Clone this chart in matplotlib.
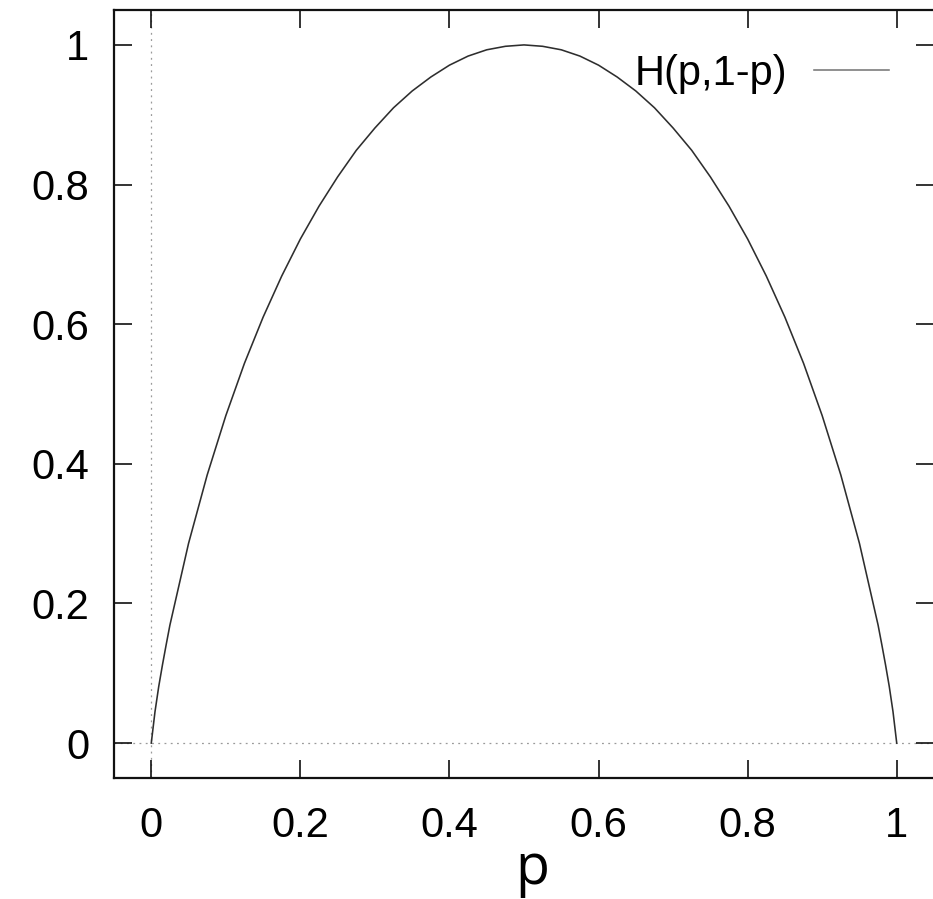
import numpy as np
import matplotlib
matplotlib.use("Agg")
import matplotlib.pyplot as plt

# binary entropy curve
p = [0.0, 0.005, 0.01, 0.015, 0.02, 0.025, 0.05, 0.075, 0.1, 0.125, 0.15, 0.175,
     0.2, 0.225, 0.25, 0.275, 0.3, 0.325, 0.35, 0.375, 0.4, 0.425, 0.45, 0.475,
     0.5, 0.525, 0.55, 0.575, 0.6, 0.625, 0.65, 0.675, 0.7, 0.725, 0.75, 0.775,
     0.8, 0.825, 0.85, 0.875, 0.9, 0.925, 0.95, 0.975, 0.98, 0.985, 0.99, 0.995, 1.0]
H = [0.0, 0.045, 0.081, 0.112, 0.141, 0.169, 0.286, 0.384, 0.469, 0.544, 0.610, 0.669,
     0.722, 0.769, 0.811, 0.849, 0.881, 0.910, 0.934, 0.954, 0.971, 0.984, 0.993, 0.998,
     1.0, 0.998, 0.993, 0.984, 0.971, 0.954, 0.934, 0.910, 0.881, 0.849, 0.811, 0.769,
     0.722, 0.669, 0.610, 0.544, 0.469, 0.384, 0.286, 0.169, 0.141, 0.112, 0.081, 0.045, 0.0]
ticks = [0, 0.2, 0.4, 0.6, 0.8, 1]
tick_labels = ["0", "0.2", "0.4", "0.6", "0.8", "1"]
series_label = "H(p,1-p)"

W, Hpx = 933, 899
fig = plt.figure(figsize=(W / 100, Hpx / 100), dpi=100)
ax = fig.add_axes([114 / W, 121 / Hpx, 820 / W, 768 / Hpx])

# gnuplot style zero axes
zero_style = dict(color="#9a9a9a", lw=0.9, linestyle=(0, (1.5, 3.5)), zorder=1)
ax.axhline(0, **zero_style)
ax.axvline(0, **zero_style)

ax.plot(p, H, color="#2e2e2e", lw=1.15, label=series_label, zorder=2)

ax.set_xlim(-0.05, 1.05)
ax.set_ylim(-0.05, 1.05)
ax.set_xticks(ticks)
ax.set_xticklabels(tick_labels)
ax.set_yticks(ticks)
ax.set_yticklabels(tick_labels)

ax.tick_params(direction="in", length=13, width=1.2, top=True, right=True,
               labelsize=30, color="#111111")
ax.tick_params(axis="x", pad=20)
ax.tick_params(axis="y", pad=18)
for lab in ax.get_xticklabels() + ax.get_yticklabels():
    lab.set_fontfamily("Liberation Sans")
for s in ax.spines.values():
    s.set_linewidth(1.6)
    s.set_color("#111111")

leg = ax.legend(loc="upper right", bbox_to_anchor=(889 / W, 1 - 54 / Hpx),
                bbox_transform=fig.transFigure, frameon=False, markerfirst=False,
                handlelength=1.8, handletextpad=0.65, borderpad=0, borderaxespad=0,
                prop={"family": "Liberation Sans", "size": 30})
for ln in leg.get_lines():
    ln.set_color("#777777")

fig.text(532 / W, (899 - 884) / Hpx, "p", family="Open Sans", fontsize=40,
         ha="center", va="baseline")

fig.savefig("out.png", dpi=100)
